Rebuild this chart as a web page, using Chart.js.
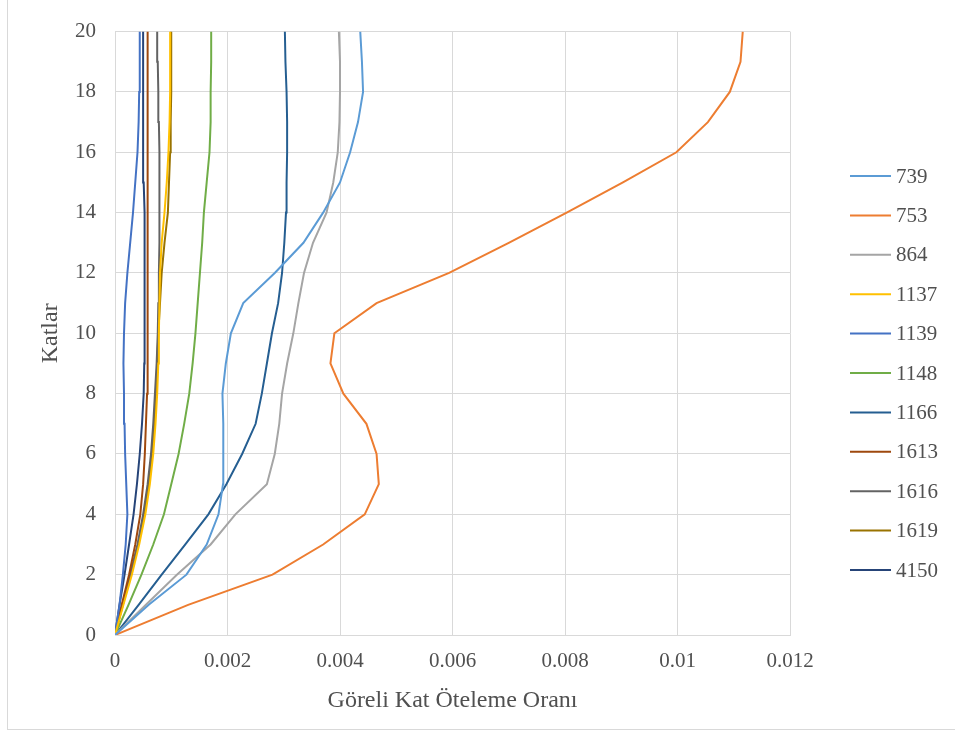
<!DOCTYPE html>
<html>
<head>
<meta charset="utf-8">
<script src="https://cdn.jsdelivr.net/npm/chart.js@4/dist/chart.umd.min.js"></script>
<style>
  html, body { margin: 0; padding: 0; background: #ffffff; }
  #wrap { position: relative; width: 955px; height: 733px; }
  #frame { position: absolute; left: 7px; top: -1px; width: 960px; height: 731px; border: 1px solid #d9d9d9; box-sizing: border-box; pointer-events: none; }
</style>
</head>
<body>
<div id="wrap">
  <canvas id="c" width="955" height="733"></canvas>
  <div id="frame"></div>
</div>
<script>
const stories = [0,1,2,3,4,5,6,7,8,9,10,11,12,13,14,15,16,17,18,19,20];
const seriesNames = ["739","753","864","1137","1139","1148","1166","1613","1616","1619","4150"];
const seriesColors = ["#5B9BD5","#ED7D31","#A5A5A5","#FFC000","#4472C4","#70AD47","#255E91","#9E480E","#636363","#997300","#264478"];
const xTickLabels = ["0","0.002","0.004","0.006","0.008","0.01","0.012"];
const yTickLabels = ["0","2","4","6","8","10","12","14","16","18","20"];

const s739  = [0,0.0006,0.00127,0.00163,0.00184,0.00192,0.00193,0.00192,0.00191,0.00197,0.00206,0.00228,0.00284,0.00335,0.0037,0.004,0.00418,0.00432,0.00441,0.00439,0.00436];
const s753  = [0,0.0013,0.0028,0.0037,0.00444,0.00469,0.00465,0.00447,0.00406,0.00383,0.0039,0.00465,0.00594,0.007,0.00803,0.00903,0.00998,0.01054,0.01093,0.01112,0.01116];
const s864  = [0,0.00055,0.0011,0.0017,0.00214,0.0027,0.00284,0.00292,0.00297,0.00306,0.00317,0.00326,0.00336,0.00352,0.00376,0.00388,0.00396,0.00399,0.004,0.004,0.00398];
const s1137 = [0,0.00015,0.0003,0.00043,0.00054,0.00062,0.00068,0.00072,0.00075,0.00077,0.00078,0.00079,0.0008,0.00083,0.00088,0.00092,0.00095,0.00097,0.00098,0.00098,0.00098];
const s1139 = [0,0.00008,0.00014,0.00019,0.00022,0.0002,0.00018,0.00017,0.00016,0.00015,0.00016,0.00018,0.00022,0.00027,0.00032,0.00036,0.0004,0.00042,0.00043,0.00044,0.00044];
const s1148 = [0,0.00024,0.00047,0.00068,0.00087,0.001,0.00113,0.00123,0.00132,0.00138,0.00143,0.00147,0.00151,0.00155,0.00158,0.00163,0.00168,0.0017,0.0017,0.00171,0.00171];
const s1166 = [0,0.00042,0.00083,0.00125,0.00166,0.00198,0.00226,0.0025,0.00261,0.0027,0.00279,0.0029,0.00297,0.00301,0.00304,0.00305,0.00306,0.00306,0.00305,0.00303,0.00302];
const s1613 = [0,0.00012,0.00025,0.00036,0.00045,0.0005,0.00053,0.00055,0.00057,0.00058,0.00058,0.00058,0.00058,0.00058,0.00058,0.00058,0.00058,0.00058,0.00058,0.00058,0.00058];
const s1616 = [0,0.00013,0.00027,0.0004,0.0005,0.00058,0.00064,0.00068,0.00071,0.00074,0.00076,0.00077,0.00078,0.00079,0.00079,0.00079,0.00079,0.00078,0.00077,0.00076,0.00075];
const s1619 = [0,0.00014,0.00028,0.00041,0.00052,0.0006,0.00066,0.0007,0.00073,0.00075,0.00077,0.0008,0.00083,0.00088,0.00094,0.00096,0.00098,0.00099,0.001,0.001,0.001];
const s4150 = [0,0.00008,0.00017,0.00025,0.00033,0.00039,0.00044,0.00048,0.00051,0.00052,0.00053,0.00053,0.00053,0.00052,0.00052,0.00051,0.0005,0.0005,0.0005,0.0005,0.0005];

const seriesValues = [s739,s753,s864,s1137,s1139,s1148,s1166,s1613,s1616,s1619,s4150];

const FONT = "'Liberation Serif', 'Times New Roman', serif";
const TEXT = "#505050";

const datasets = seriesNames.map((name, i) => ({
  label: name,
  data: seriesValues[i].map((v, k) => ({x: v, y: stories[k]})),
  borderColor: seriesColors[i],
  backgroundColor: seriesColors[i],
  borderWidth: 2,
  pointRadius: 0,
  showLine: true,
  tension: 0,
  fill: false
}));

const legendPlugin = {
  id: 'sideLegend',
  afterDraw(chart) {
    const ctx = chart.ctx;
    const ds = chart.data.datasets;
    const x0 = 850, lineLen = 41, gap = 5, top = 176, step = 39.4;
    ctx.save();
    ctx.font = "21px " + FONT;
    ctx.textBaseline = "middle";
    ctx.textAlign = "left";
    ds.forEach((d, i) => {
      const y = top + i * step;
      ctx.strokeStyle = d.borderColor;
      ctx.lineWidth = 2;
      ctx.beginPath();
      ctx.moveTo(x0, y);
      ctx.lineTo(x0 + lineLen, y);
      ctx.stroke();
      ctx.fillStyle = TEXT;
      ctx.fillText(d.label, x0 + lineLen + gap, y + 1);
    });
    ctx.restore();
  }
};

new Chart(document.getElementById('c'), {
  type: 'scatter',
  data: { datasets },
  plugins: [legendPlugin],
  options: {
    responsive: false,
    animation: false,
    layout: { padding: { left: 10, right: 165, top: 30, bottom: 8 } },
    plugins: { legend: { display: false }, tooltip: { enabled: false } },
    scales: {
      x: {
        type: 'linear',
        min: 0, max: 0.012,
        ticks: {
          stepSize: 0.002,
          color: TEXT,
          font: { family: FONT, size: 21 },
          padding: 14,
          callback: (v, i) => xTickLabels[i]
        },
        grid: { color: '#d9d9d9', drawTicks: false, lineWidth: 1 },
        border: { color: '#d9d9d9' },
        title: {
          display: true,
          text: 'Göreli Kat Öteleme Oranı',
          color: TEXT,
          font: { family: FONT, size: 24 },
          padding: { top: 0, bottom: 10 }
        },
        afterFit: (s) => { s.height = 733 - 635 - 8; }
      },
      y: {
        type: 'linear',
        min: 0, max: 20,
        ticks: {
          stepSize: 2,
          color: TEXT,
          font: { family: FONT, size: 21 },
          padding: 19,
          callback: (v, i) => yTickLabels[i]
        },
        grid: { color: '#d9d9d9', drawTicks: false, lineWidth: 1 },
        border: { color: '#d9d9d9' },
        title: {
          display: true,
          text: 'Katlar',
          color: TEXT,
          font: { family: FONT, size: 24 },
          padding: { top: 26, bottom: 0 }
        },
        afterFit: (s) => { s.width = 115 - 10; }
      }
    }
  }
});
</script>
</body>
</html>
